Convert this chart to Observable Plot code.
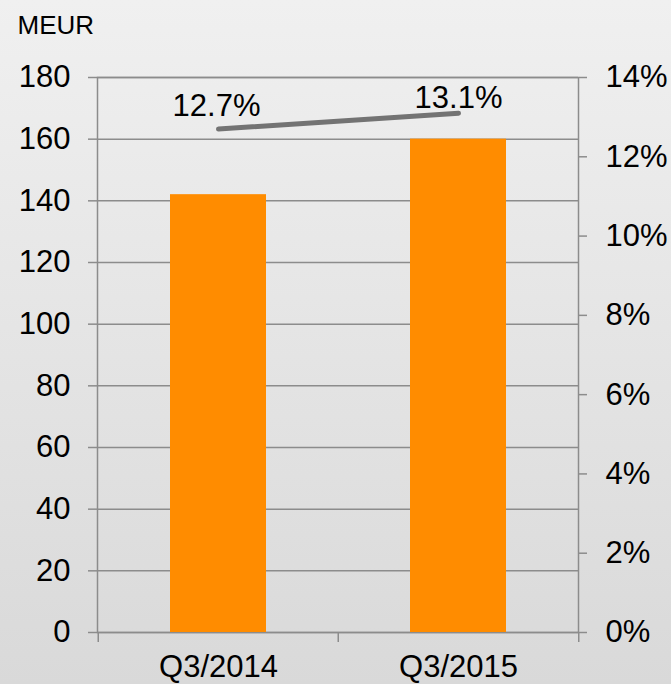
<!DOCTYPE html>
<html>
<head>
<meta charset="utf-8">
<script src="https://cdn.jsdelivr.net/npm/d3@7"></script>
<script src="https://cdn.jsdelivr.net/npm/@observablehq/plot@0.6"></script>
<style>
  html, body { margin: 0; padding: 0; width: 671px; height: 684px; overflow: hidden; }
  body { background: linear-gradient(#f0f0f0, #d9d9d9); }
  svg { display: block; }
</style>
</head>
<body>
<div id="chart"></div>
<script>
const categories = ["Q3/2014", "Q3/2015"];
const revenue = [142, 160];          // MEUR (left axis)
const marginPct = [12.7, 13.1];      // % (right axis)
const leftTicks = [0, 20, 40, 60, 80, 100, 120, 140, 160, 180];
const rightTicks = [0, 2, 4, 6, 8, 10, 12, 14];
const leftMax = 180;
const rightMax = 14;
const unitLabel = "MEUR";

const W = 671, H = 684, mL = 97, mR = 93, mT = 77, mB = 52;
const k = leftMax / rightMax;
const step = (W - mL - mR) / categories.length;
const grey = "#8c8c8c";

const bars = categories.map((c, i) => ({c, v: revenue[i]}));
const pts = categories.map((c, i) => ({c, p: marginPct[i], y: marginPct[i] * k}));

const chart = Plot.plot({
  width: W, height: H,
  marginLeft: mL, marginRight: mR, marginTop: mT, marginBottom: mB,
  style: {background: "transparent", fontFamily: "'Liberation Sans', Arial, sans-serif", fontSize: "31px", color: "#000"},
  x: {domain: categories, padding: 0, axis: null, label: null},
  y: {domain: [0, leftMax], axis: null, label: null},
  marks: [
    Plot.gridY(leftTicks, {stroke: grey, strokeOpacity: 1, strokeWidth: 1.5}),
    Plot.frame({stroke: grey, strokeWidth: 1.5}),
    Plot.axisY(leftTicks, {anchor: "left", label: null, tickSize: 9, tickPadding: 18, stroke: grey, strokeWidth: 1.5, fill: "#000", tickFormat: d => String(d)}),
    Plot.axisY(rightTicks.map(t => t * k), {anchor: "right", label: null, tickSize: 8, tickPadding: 19, stroke: grey, strokeWidth: 1.5, fill: "#000", tickFormat: d => Math.round(d / k) + "%"}),
    Plot.axisX(categories, {anchor: "bottom", label: null, tickSize: 10, dx: -step / 2, stroke: grey, strokeWidth: 1.5, tickFormat: () => ""}),
    Plot.axisX(categories.slice(-1), {anchor: "bottom", label: null, tickSize: 10, dx: step / 2, stroke: grey, strokeWidth: 1.5, tickFormat: () => ""}),
    Plot.axisX(categories, {anchor: "bottom", label: null, tickSize: 0, tickPadding: 22, fill: "#000"}),
    Plot.barY(bars, {x: "c", y: "v", fill: "#ff8c00", insetLeft: 72, insetRight: 72}),
    Plot.line(pts, {x: "c", y: "y", stroke: "#737373", strokeWidth: 5, strokeLinecap: "round"}),
    Plot.text(pts, {filter: (d, i) => i === 0, x: "c", y: "y", text: d => d.p.toFixed(1) + "%", dy: -23, dx: -2, fill: "#000"}),
    Plot.text(pts, {filter: (d, i) => i === 1, x: "c", y: "y", text: d => d.p.toFixed(1) + "%", dy: -15, fill: "#000"}),
    Plot.text([unitLabel], {frameAnchor: "top-left", textAnchor: "start", lineAnchor: "bottom", dx: -80, dy: -44, fontSize: 26, fill: "#000"})
  ]
});
document.getElementById("chart").append(chart);
</script>
</body>
</html>
